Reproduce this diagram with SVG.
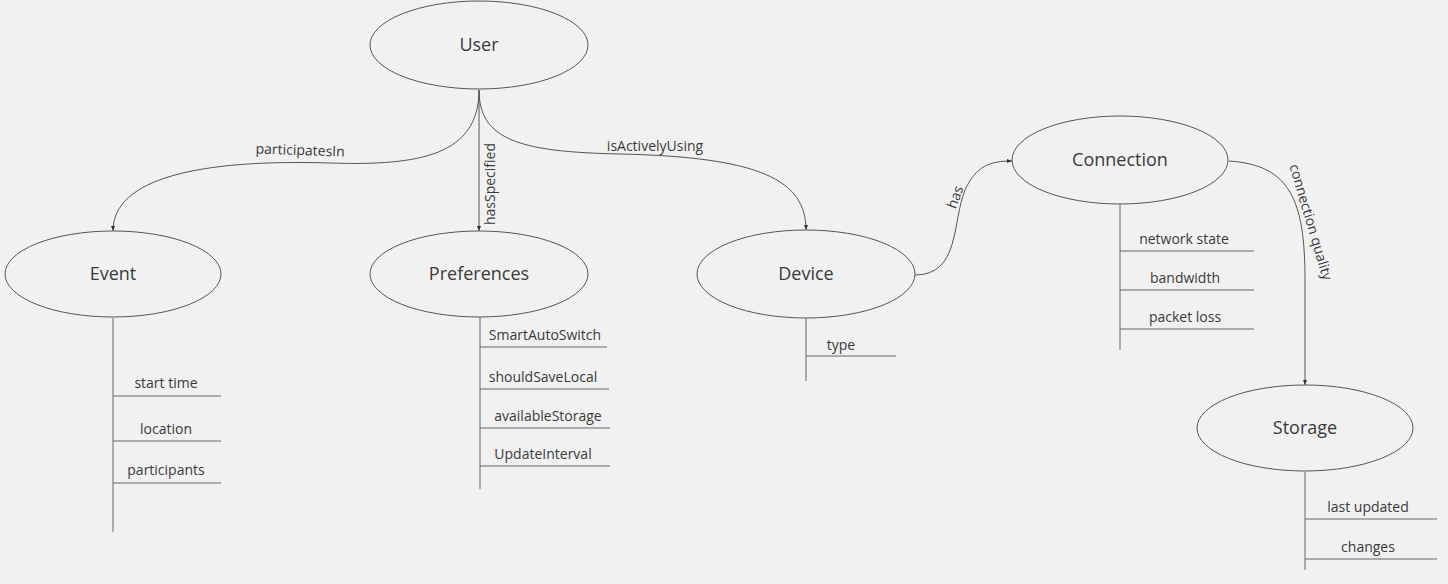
<svg xmlns="http://www.w3.org/2000/svg" width="1448" height="584" viewBox="0 0 1448 584">
<style>
.bg{fill:#f1f1f1}
.node ellipse{fill:#f1f1f1;stroke:#555;stroke-width:1}
.nt{font-family:"Open Sans","Liberation Sans",sans-serif;font-size:18px;fill:#3a3a3a;text-anchor:middle}
.at{font-family:"Open Sans","Liberation Sans",sans-serif;font-size:14px;fill:#3a3a3a;text-anchor:middle}
.el{font-family:"Open Sans","Liberation Sans",sans-serif;font-size:14px;fill:#3a3a3a;text-anchor:middle}
.ln{stroke:#666;stroke-width:1;fill:none}
.edge{stroke:#555;stroke-width:1;fill:none;marker-end:url(#arr)}
</style>
<defs>
<marker id="arr" viewBox="0 0 5 4" refX="5" refY="2" markerWidth="5" markerHeight="4" orient="auto" markerUnits="userSpaceOnUse">
<path d="M0,0 L5,2 L0,4 z" fill="#333"/>
</marker>
</defs>
<rect class="bg" x="0" y="0" width="1448" height="584"/>
<g id="connectors">
<path class="edge" d="M479,90 C479,155 420,166 330,163 C200,159 113,178 113,231"/>
<text class="el" x="300" y="155" transform="rotate(2 300 155)">participatesIn</text>
<path class="edge" d="M479,90 L479,231"/>
<text class="el" x="490" y="184" transform="rotate(-90 490 184)" dy="5">hasSpecified</text>
<path class="edge" d="M479,90 C479,140 520,152 620,154 C760,157 806,180 806,230"/>
<text class="el" x="655" y="151">isActivelyUsing</text>
<path class="edge" d="M915,275 C960,275 952,222 965,190 C976,166 990,161 1012,161"/>
<text class="el" x="955" y="197" transform="rotate(-70 955 197)" dy="5">has</text>
<path class="edge" d="M1229,161 C1290,165 1305,200 1305,280 L1305,385"/>
<text class="el" x="1311" y="222" transform="rotate(73.6 1311 222)" dy="5">connection quality</text>
</g>
<g id="user" class="node">
<ellipse cx="479" cy="45" rx="109" ry="44"/>
<text class="nt" x="479" y="51">User</text>
</g>
<g id="event" class="node">
<ellipse cx="113" cy="274" rx="108" ry="43"/>
<text class="nt" x="113" y="280">Event</text>
<path class="ln" d="M113,318 V532 M113,396 H221 M113,441 H221 M113,483 H221"/>
<text class="at" x="166" y="388">start time</text>
<text class="at" x="166" y="434">location</text>
<text class="at" x="166" y="475">participants</text>
</g>
<g id="preferences" class="node">
<ellipse cx="479" cy="274" rx="109" ry="43"/>
<text class="nt" x="479" y="280">Preferences</text>
<path class="ln" d="M480,317 V489 M480,347 H607 M480,389 H609 M480,428 H610 M480,466 H610"/>
<text class="at" x="545" y="340">SmartAutoSwitch</text>
<text class="at" x="543" y="382">shouldSaveLocal</text>
<text class="at" x="548" y="421">availableStorage</text>
<text class="at" x="543" y="459">UpdateInterval</text>
</g>
<g id="device" class="node">
<ellipse cx="806" cy="274" rx="109" ry="44"/>
<text class="nt" x="806" y="280">Device</text>
<path class="ln" d="M806,318 V381 M806,356 H896"/>
<text class="at" x="841" y="350">type</text>
</g>
<g id="connection" class="node">
<ellipse cx="1120" cy="160" rx="108" ry="44"/>
<text class="nt" x="1120" y="166">Connection</text>
<path class="ln" d="M1120,204 V350 M1120,251 H1254 M1120,290 H1254 M1120,329 H1254"/>
<text class="at" x="1184" y="244">network state</text>
<text class="at" x="1185" y="283">bandwidth</text>
<text class="at" x="1185" y="322">packet loss</text>
</g>
<g id="storage" class="node">
<ellipse cx="1305" cy="428" rx="108" ry="43"/>
<text class="nt" x="1305" y="434">Storage</text>
<path class="ln" d="M1305,472 V570 M1305,519 H1437 M1305,559 H1437"/>
<text class="at" x="1368" y="512">last updated</text>
<text class="at" x="1368" y="552">changes</text>
</g>
</svg>
